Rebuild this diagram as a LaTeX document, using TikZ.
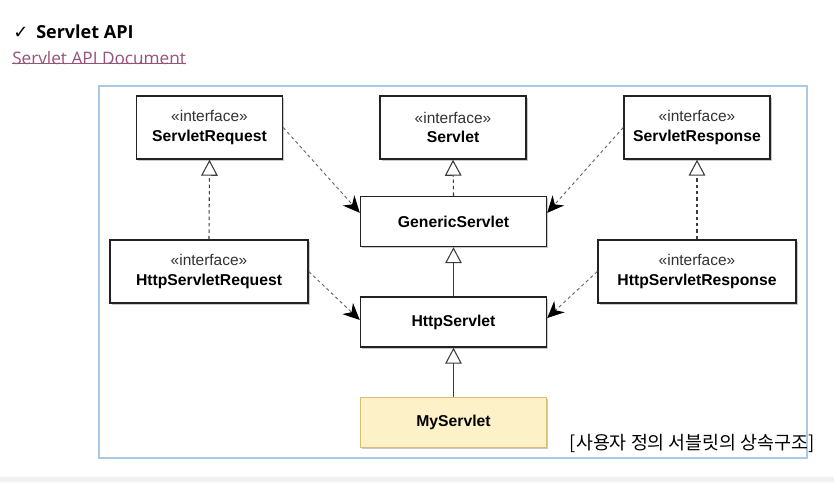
\documentclass[tikz,border=0pt]{standalone}
\usepackage{fontspec}
\setmainfont{Liberation Sans}
\newfontfamily\krfont{Noto Sans CJK KR}
\newfontfamily\hdfont{Open Sans}
\newfontfamily\symfont{DejaVu Sans}
\usetikzlibrary{arrows.meta,shadows}
\definecolor{frameblue}{RGB}{168,200,228}
\definecolor{linkcol}{RGB}{150,82,122}
\definecolor{myfill}{RGB}{253,241,200}
\definecolor{myedge}{RGB}{214,190,120}
\definecolor{boxedge}{RGB}{34,34,34}
\definecolor{conn}{RGB}{60,60,60}
\definecolor{bandgray}{RGB}{241,241,241}
\definecolor{ifacecol}{RGB}{50,50,50}
\tikzset{
  umlbox/.style={draw=boxedge, line width=1.1pt, fill=white, inner sep=0pt, align=center,
    drop shadow={shadow xshift=1.4pt, shadow yshift=-1.4pt, fill=black!35, opacity=0.6},
    font=\fontsize{11.8}{14}\selectfont},
  topbox/.style={umlbox, minimum width=109.5pt, minimum height=47.25pt},
  midbox/.style={umlbox, minimum width=139.5pt, minimum height=37.5pt},
  sidebox/.style={umlbox, minimum width=148.5pt, minimum height=47.25pt},
  realize/.style={draw=conn, line width=0.8pt, dash pattern=on 2.6pt off 2.2pt,
    -{Triangle[open, length=12pt, width=12.5pt, line width=0.8pt]}},
  inherit/.style={draw=conn, line width=0.8pt,
    -{Triangle[open, length=12pt, width=12.5pt, line width=0.8pt]}},
  depend/.style={draw=black!60, line width=0.7pt, dash pattern=on 2.4pt off 2.2pt,
    -{Stealth[length=12.5pt, width=11.5pt, inset=4pt, black]}},
}
\newcommand{\iface}{{\color{ifacecol}\fontsize{11.6}{12}\selectfont «interface»}}
\begin{document}
\begin{tikzpicture}[x=0.75pt, y=-0.75pt]
\useasboundingbox (0,0) rectangle (834,482);
\fill[white] (0,0) rectangle (834,482);
\fill[bandgray] (0,477) rectangle (834,482);
% header
\node[anchor=base west, inner sep=0pt] (chk) at (13,38) {\symfont\fontsize{13.5}{15}\selectfont ✓};
\node[anchor=base west, inner sep=0pt] (title) at (36,38) {\hdfont\bfseries\fontsize{13.5}{16}\selectfont Servlet API};
\node[anchor=base west, inner sep=0pt, text=linkcol] (link) at (12,64) {\hdfont\fontsize{12.9}{15}\selectfont Servlet API Document};
\draw[linkcol, line width=0.75pt] (link.south west) ++(0,-1) coordinate (ul1) -- (ul1 -| link.south east);
% frame
\draw[frameblue, line width=0.9pt] (99,86) rectangle (807,458);
% boxes
\node[topbox] (sreq) at (209.5,127.5) {\iface\\[0.5pt]\textbf{ServletRequest}};
\node[topbox] (srv) at (453,127.5) {\iface\\[0.5pt]\textbf{Servlet}};
\node[topbox] (sresp) at (697,127.5) {\iface\\[0.5pt]\textbf{ServletResponse}};
\node[midbox] (gen) at (453.5,221.5) {\textbf{GenericServlet}};
\node[sidebox] (hreq) at (209,271.5) {\iface\\[0.5pt]\textbf{HttpServletRequest}};
\node[sidebox] (hresp) at (697,271.5) {\iface\\[0.5pt]\textbf{HttpServletResponse}};
\node[midbox] (http) at (453.5,322) {\textbf{HttpServlet}};
\node[midbox, fill=myfill, draw=myedge] (mys) at (453.5,422.5) {\textbf{MyServlet}};
% realizations / inheritance
\draw[realize] (gen.north) -- (srv.south);
\draw[realize] (hreq.north) -- (sreq.south);
\draw[realize] (hresp.north) -- (sresp.south);
\draw[inherit] (http.north) -- (gen.south);
\draw[inherit] (mys.north) -- (http.south);
% dependencies
\draw[depend] (sreq.east) -- ([yshift=6.5pt]gen.west);
\draw[depend] (sresp.west) -- ([yshift=6.5pt]gen.east);
\draw[depend] (hreq.east) -- ([yshift=1.5pt]http.west);
\draw[depend] (hresp.west) -- ([yshift=3pt]http.east);
% caption
\node[anchor=east, inner sep=0pt] (cap) at (815,443) {\krfont\fontsize{13.8}{16}\selectfont [사용자 정의 서블릿의 상속구조]};
\end{tikzpicture}
\end{document}
